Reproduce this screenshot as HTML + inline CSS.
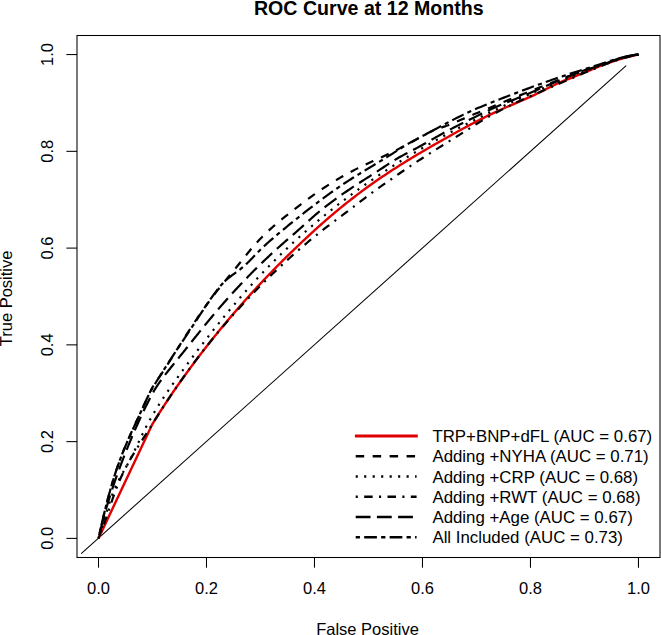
<!DOCTYPE html>
<html><head><meta charset="utf-8"><style>
html,body{margin:0;padding:0;background:#fff;}
body{width:661px;height:635px;overflow:hidden;}
svg{display:block;}
.t{font-family:"Liberation Sans",sans-serif;font-size:16.5px;fill:#000;}
.l{font-family:"Liberation Sans",sans-serif;font-size:16.85px;fill:#000;}
.b{font-family:"Liberation Sans",sans-serif;font-size:19.6px;font-weight:bold;fill:#000;}
</style></head><body>
<svg width="661" height="635" viewBox="0 0 661 635">
<rect width="661" height="635" fill="#fff"/>
<rect x="77" y="35.5" width="583" height="522" fill="none" stroke="#000" stroke-width="1.05"/>
<line x1="98.50" y1="557.5" x2="98.50" y2="567.7" stroke="#000" stroke-width="1.05"/>
<text x="98.50" y="593.8" text-anchor="middle" class="t">0.0</text>
<line x1="66.4" y1="538.40" x2="77" y2="538.40" stroke="#000" stroke-width="1.05"/>
<text transform="translate(52.6 538.40) rotate(-90)" x="0" y="0" text-anchor="middle" class="t">0.0</text>
<line x1="206.49" y1="557.5" x2="206.49" y2="567.7" stroke="#000" stroke-width="1.05"/>
<text x="206.49" y="593.8" text-anchor="middle" class="t">0.2</text>
<line x1="66.4" y1="441.63" x2="77" y2="441.63" stroke="#000" stroke-width="1.05"/>
<text transform="translate(52.6 441.63) rotate(-90)" x="0" y="0" text-anchor="middle" class="t">0.2</text>
<line x1="314.48" y1="557.5" x2="314.48" y2="567.7" stroke="#000" stroke-width="1.05"/>
<text x="314.48" y="593.8" text-anchor="middle" class="t">0.4</text>
<line x1="66.4" y1="344.86" x2="77" y2="344.86" stroke="#000" stroke-width="1.05"/>
<text transform="translate(52.6 344.86) rotate(-90)" x="0" y="0" text-anchor="middle" class="t">0.4</text>
<line x1="422.48" y1="557.5" x2="422.48" y2="567.7" stroke="#000" stroke-width="1.05"/>
<text x="422.48" y="593.8" text-anchor="middle" class="t">0.6</text>
<line x1="66.4" y1="248.10" x2="77" y2="248.10" stroke="#000" stroke-width="1.05"/>
<text transform="translate(52.6 248.10) rotate(-90)" x="0" y="0" text-anchor="middle" class="t">0.6</text>
<line x1="530.47" y1="557.5" x2="530.47" y2="567.7" stroke="#000" stroke-width="1.05"/>
<text x="530.47" y="593.8" text-anchor="middle" class="t">0.8</text>
<line x1="66.4" y1="151.33" x2="77" y2="151.33" stroke="#000" stroke-width="1.05"/>
<text transform="translate(52.6 151.33) rotate(-90)" x="0" y="0" text-anchor="middle" class="t">0.8</text>
<line x1="638.46" y1="557.5" x2="638.46" y2="567.7" stroke="#000" stroke-width="1.05"/>
<text x="638.46" y="593.8" text-anchor="middle" class="t">1.0</text>
<line x1="66.4" y1="54.56" x2="77" y2="54.56" stroke="#000" stroke-width="1.05"/>
<text transform="translate(52.6 54.56) rotate(-90)" x="0" y="0" text-anchor="middle" class="t">1.0</text>
<line x1="81.2" y1="553.6" x2="626.2" y2="65.6" stroke="#000" stroke-width="1.05"/>
<path d="M98.50,538.40 L152.30,424.20 L153.12,423.04 L153.94,421.67 L154.76,420.31 L155.60,418.95 L156.44,417.59 L157.28,416.22 L158.14,414.86 L158.99,413.49 L159.86,412.13 L160.72,410.76 L161.60,409.40 L162.48,408.03 L163.36,406.66 L164.26,405.29 L165.15,403.92 L166.05,402.55 L166.96,401.18 L167.88,399.80 L168.79,398.43 L169.72,397.06 L170.65,395.68 L171.58,394.31 L172.52,392.93 L173.46,391.55 L174.41,390.18 L175.37,388.80 L176.32,387.42 L177.29,386.04 L178.26,384.65 L179.23,383.27 L180.21,381.89 L181.19,380.50 L182.18,379.12 L183.17,377.73 L184.16,376.34 L185.17,374.95 L186.17,373.56 L187.18,372.17 L188.19,370.78 L189.21,369.39 L190.24,368.00 L191.27,366.60 L192.30,365.21 L193.34,363.81 L194.38,362.42 L195.42,361.02 L196.47,359.62 L197.53,358.23 L198.59,356.83 L199.66,355.43 L200.73,354.03 L201.80,352.63 L202.88,351.23 L203.96,349.83 L205.05,348.43 L206.14,347.03 L207.24,345.62 L208.34,344.22 L209.45,342.82 L210.56,341.42 L211.68,340.01 L212.80,338.61 L213.92,337.20 L215.05,335.80 L216.19,334.40 L217.33,332.99 L218.47,331.59 L219.62,330.18 L220.78,328.78 L221.93,327.37 L223.10,325.97 L224.27,324.56 L225.44,323.16 L226.62,321.75 L227.80,320.35 L228.98,318.94 L230.18,317.54 L231.37,316.13 L232.57,314.73 L233.78,313.32 L234.99,311.92 L236.20,310.51 L237.42,309.11 L238.65,307.70 L239.88,306.30 L241.11,304.90 L242.35,303.49 L243.59,302.09 L244.84,300.69 L246.10,299.28 L247.35,297.88 L248.62,296.48 L249.89,295.08 L251.16,293.68 L252.44,292.28 L253.72,290.88 L255.00,289.48 L256.30,288.08 L257.59,286.68 L258.89,285.28 L260.20,283.88 L261.51,282.48 L262.83,281.09 L264.15,279.69 L265.47,278.29 L266.81,276.90 L268.14,275.50 L269.48,274.11 L270.83,272.72 L272.18,271.32 L273.53,269.93 L274.89,268.54 L276.26,267.15 L277.63,265.76 L279.00,264.37 L280.38,262.98 L281.76,261.59 L283.15,260.21 L284.55,258.82 L285.95,257.44 L287.35,256.05 L288.76,254.67 L290.17,253.28 L291.59,251.90 L293.01,250.52 L294.44,249.14 L295.88,247.76 L297.32,246.38 L298.76,245.01 L300.21,243.63 L301.66,242.25 L303.12,240.88 L304.58,239.51 L306.05,238.14 L307.53,236.76 L309.01,235.40 L310.49,234.03 L311.98,232.66 L313.48,231.30 L314.98,229.93 L316.49,228.57 L318.00,227.21 L319.52,225.86 L321.05,224.50 L322.58,223.15 L324.12,221.80 L325.66,220.45 L327.21,219.11 L328.77,217.76 L330.33,216.42 L331.90,215.08 L333.48,213.75 L335.07,212.42 L336.66,211.09 L338.25,209.76 L339.86,208.44 L341.47,207.12 L343.09,205.80 L344.72,204.49 L346.36,203.18 L348.00,201.88 L349.65,200.57 L351.31,199.28 L352.97,197.98 L354.65,196.69 L356.33,195.40 L358.02,194.12 L359.71,192.84 L361.42,191.57 L363.13,190.30 L364.85,189.03 L366.58,187.77 L368.32,186.51 L370.07,185.26 L371.82,184.01 L373.58,182.76 L375.35,181.52 L377.13,180.28 L378.92,179.05 L380.71,177.82 L382.51,176.60 L384.32,175.38 L386.14,174.16 L387.97,172.95 L389.80,171.74 L391.65,170.54 L393.50,169.34 L395.36,168.14 L397.22,166.95 L399.10,165.77 L400.98,164.58 L402.87,163.40 L404.76,162.22 L406.66,161.05 L408.57,159.88 L410.49,158.71 L412.41,157.55 L414.34,156.39 L416.27,155.23 L418.22,154.07 L420.16,152.92 L422.12,151.76 L424.07,150.62 L426.04,149.47 L428.01,148.32 L429.98,147.18 L431.96,146.04 L433.95,144.90 L435.94,143.76 L437.93,142.62 L439.93,141.49 L441.94,140.36 L443.95,139.22 L445.96,138.09 L447.98,136.96 L450.00,135.83 L452.02,134.70 L454.05,133.57 L456.08,132.44 L458.12,131.32 L460.17,130.19 L462.22,129.07 L464.27,127.95 L466.33,126.84 L468.40,125.73 L470.48,124.62 L472.57,123.52 L474.66,122.42 L476.76,121.33 L478.87,120.24 L481.00,119.16 L483.13,118.08 L485.27,117.01 L487.42,115.95 L489.58,114.90 L491.76,113.85 L493.95,112.81 L496.15,111.78 L498.36,110.76 L500.59,109.75 L502.83,108.75 L505.08,107.76 L507.34,106.77 L509.61,105.79 L511.89,104.81 L514.17,103.83 L516.45,102.85 L518.74,101.87 L521.02,100.89 L523.30,99.90 L525.58,98.90 L527.85,97.90 L530.12,96.89 L532.37,95.86 L534.61,94.83 L536.84,93.78 L539.05,92.71 L541.25,91.62 L543.43,90.52 L545.60,89.41 L547.78,88.30 L549.96,87.19 L552.16,86.09 L554.37,85.01 L556.61,83.95 L558.88,82.91 L561.20,81.90 L563.55,80.93 L565.92,79.98 L568.31,79.04 L570.70,78.09 L573.08,77.14 L575.45,76.17 L577.82,75.20 L580.19,74.22 L582.55,73.24 L584.92,72.26 L587.28,71.28 L589.66,70.30 L592.04,69.32 L594.43,68.35 L596.83,67.39 L599.24,66.44 L601.67,65.50 L604.11,64.57 L606.58,63.66 L609.07,62.76 L611.58,61.88 L614.11,61.02 L616.68,60.19 L619.27,59.38 L621.90,58.60 L624.56,57.84 L627.26,57.12 L630.00,56.42 L632.77,55.77 L635.59,55.14 L638.46,54.56" fill="none" stroke="#e00000" stroke-width="2.4" stroke-linejoin="round" stroke-linecap="butt"/>
<path d="M98.50,538.40 L98.57,538.06 L98.68,537.57 L98.81,537.00 L98.95,536.36 L99.10,535.68 L99.26,534.95 L99.43,534.19 L99.61,533.39 L99.79,532.56 L99.98,531.70 L100.18,530.82 L100.38,529.91 L100.59,528.99 L100.80,528.04 L101.02,527.07 L101.25,526.08 L101.48,525.07 L101.71,524.04 L101.95,523.00 L102.19,521.95 L102.44,520.87 L102.69,519.79 L102.95,518.69 L103.21,517.57 L103.47,516.44 L103.74,515.30 L104.02,514.15 L104.29,512.99 L104.58,511.81 L104.87,510.63 L105.16,509.43 L105.45,508.23 L105.76,507.01 L106.06,505.79 L106.37,504.55 L106.69,503.31 L107.01,502.06 L107.34,500.80 L107.67,499.53 L108.00,498.26 L108.34,496.98 L108.69,495.69 L109.04,494.39 L109.40,493.09 L109.76,491.78 L110.13,490.47 L110.50,489.15 L110.88,487.83 L111.27,486.50 L111.66,485.16 L112.06,483.82 L112.46,482.48 L112.87,481.13 L113.28,479.77 L113.71,478.42 L114.13,477.05 L114.57,475.69 L115.01,474.32 L115.45,472.95 L115.91,471.57 L116.37,470.19 L116.83,468.81 L117.31,467.43 L117.79,466.04 L118.28,464.65 L118.77,463.26 L119.27,461.87 L119.78,460.48 L120.29,459.08 L120.82,457.68 L121.35,456.28 L121.89,454.88 L122.43,453.48 L122.98,452.08 L123.54,450.67 L124.11,449.27 L124.68,447.86 L125.27,446.46 L125.85,445.05 L126.45,443.64 L127.05,442.22 L127.66,440.81 L128.27,439.39 L128.89,437.98 L129.51,436.56 L130.14,435.14 L130.78,433.71 L131.42,432.29 L132.07,430.86 L132.72,429.43 L133.38,428.00 L134.04,426.56 L134.70,425.13 L135.37,423.69 L136.04,422.24 L136.72,420.80 L137.40,419.35 L138.09,417.89 L138.77,416.44 L139.46,414.98 L140.16,413.51 L140.85,412.04 L141.55,410.57 L142.24,409.09 L142.94,407.61 L143.64,406.12 L144.34,404.62 L145.03,403.12 L145.73,401.61 L146.42,400.09 L147.11,398.56 L147.79,397.02 L148.47,395.48 L149.16,393.93 L149.86,392.39 L150.59,390.87 L151.35,389.37 L152.16,387.91 L153.00,386.48 L153.87,385.06 L154.78,383.67 L155.70,382.29 L156.63,380.92 L157.58,379.55 L158.54,378.18 L159.49,376.81 L160.44,375.43 L161.39,374.03 L162.32,372.63 L163.26,371.21 L164.18,369.79 L165.11,368.36 L166.03,366.92 L166.95,365.47 L167.86,364.02 L168.78,362.56 L169.70,361.09 L170.62,359.63 L171.54,358.16 L172.46,356.68 L173.39,355.21 L174.31,353.73 L175.24,352.25 L176.18,350.76 L177.11,349.28 L178.05,347.79 L178.99,346.30 L179.93,344.80 L180.88,343.31 L181.83,341.81 L182.78,340.31 L183.74,338.81 L184.70,337.31 L185.67,335.81 L186.64,334.30 L187.61,332.80 L188.59,331.29 L189.57,329.79 L190.55,328.28 L191.55,326.77 L192.54,325.27 L193.54,323.76 L194.55,322.25 L195.56,320.75 L196.57,319.24 L197.60,317.73 L198.62,316.23 L199.66,314.72 L200.69,313.22 L201.74,311.72 L202.79,310.22 L203.85,308.72 L204.91,307.22 L205.99,305.73 L207.06,304.23 L208.15,302.74 L209.24,301.25 L210.34,299.76 L211.45,298.28 L212.57,296.80 L213.69,295.32 L214.82,293.85 L215.96,292.37 L217.11,290.91 L218.27,289.44 L219.43,287.98 L220.60,286.52 L221.78,285.06 L222.97,283.60 L224.15,282.15 L225.35,280.69 L226.55,279.23 L227.75,277.78 L228.95,276.32 L230.16,274.86 L231.36,273.39 L232.57,271.93 L233.78,270.46 L234.99,268.98 L236.20,267.51 L237.40,266.02 L238.61,264.53 L239.81,263.04 L241.01,261.54 L242.21,260.03 L243.42,258.53 L244.63,257.02 L245.84,255.52 L247.05,254.01 L248.28,252.51 L249.51,251.01 L250.75,249.52 L252.00,248.03 L253.27,246.55 L254.55,245.08 L255.84,243.62 L257.15,242.16 L258.47,240.72 L259.82,239.30 L261.18,237.89 L262.57,236.49 L263.97,235.10 L265.39,233.72 L266.82,232.36 L268.27,231.01 L269.74,229.66 L271.22,228.33 L272.71,227.01 L274.22,225.69 L275.74,224.38 L277.27,223.08 L278.81,221.78 L280.36,220.49 L281.93,219.20 L283.49,217.92 L285.07,216.64 L286.66,215.37 L288.25,214.10 L289.84,212.83 L291.45,211.56 L293.06,210.29 L294.68,209.03 L296.31,207.78 L297.94,206.52 L299.58,205.27 L301.23,204.02 L302.88,202.77 L304.55,201.53 L306.22,200.29 L307.90,199.06 L309.59,197.83 L311.28,196.61 L312.99,195.39 L314.71,194.17 L316.43,192.97 L318.17,191.76 L319.92,190.57 L321.67,189.38 L323.44,188.19 L325.22,187.02 L327.01,185.85 L328.82,184.69 L330.63,183.53 L332.46,182.39 L334.30,181.25 L336.16,180.12 L338.02,179.00 L339.91,177.89 L341.80,176.79 L343.71,175.70 L345.64,174.62 L347.58,173.55 L349.54,172.50 L351.51,171.45 L353.50,170.41 L355.51,169.39 L357.53,168.38 L359.56,167.37 L361.62,166.38 L363.68,165.39 L365.75,164.42 L367.83,163.44 L369.92,162.47 L372.02,161.51 L374.12,160.54 L376.23,159.58 L378.34,158.61 L380.45,157.65 L382.56,156.67 L384.66,155.70 L386.77,154.72 L388.87,153.73 L390.96,152.73 L393.04,151.72 L395.12,150.71 L397.18,149.68 L399.24,148.63 L401.29,147.58 L403.33,146.52 L405.36,145.45 L407.39,144.37 L409.41,143.28 L411.43,142.19 L413.45,141.09 L415.46,139.99 L417.47,138.88 L419.48,137.77 L421.49,136.65 L423.50,135.54 L425.52,134.42 L427.55,133.32 L429.62,132.25 L431.74,131.22 L433.93,130.24 L436.19,129.34 L438.54,128.50 L440.93,127.70 L443.33,126.91 L445.71,126.09 L448.03,125.23 L450.32,124.32 L452.57,123.39 L454.81,122.44 L457.05,121.48 L459.30,120.53 L461.54,119.58 L463.79,118.63 L466.05,117.68 L468.30,116.72 L470.56,115.77 L472.82,114.82 L475.09,113.86 L477.36,112.91 L479.63,111.96 L481.90,111.01 L484.18,110.05 L486.46,109.10 L488.75,108.15 L491.03,107.20 L493.32,106.25 L495.62,105.30 L497.91,104.35 L500.21,103.40 L502.52,102.45 L504.83,101.50 L507.14,100.55 L509.45,99.60 L511.77,98.65 L514.09,97.70 L516.42,96.76 L518.74,95.81 L521.08,94.87 L523.41,93.92 L525.75,92.98 L528.10,92.04 L530.44,91.09 L532.79,90.15 L535.15,89.21 L537.51,88.27 L539.87,87.33 L542.24,86.40 L544.61,85.46 L546.98,84.52 L549.36,83.59 L551.75,82.66 L554.13,81.73 L556.53,80.80 L558.92,79.87 L561.32,78.94 L563.73,78.02 L566.14,77.09 L568.56,76.17 L570.98,75.26 L573.41,74.34 L575.85,73.43 L578.29,72.53 L580.74,71.62 L583.20,70.72 L585.66,69.83 L588.13,68.94 L590.61,68.05 L593.10,67.17 L595.60,66.29 L598.10,65.42 L600.61,64.55 L603.13,63.69 L605.66,62.83 L608.20,61.99 L610.75,61.14 L613.32,60.31 L615.90,59.49 L618.52,58.70 L621.17,57.94 L623.88,57.23 L626.64,56.56 L629.47,55.95 L632.38,55.41 L635.37,54.94 L638.46,54.56" fill="none" stroke="#000" stroke-width="2.2" stroke-linejoin="round" stroke-linecap="butt" stroke-dasharray="8.415 8.415" stroke-dashoffset="13.641"/>
<path d="M98.50,538.40 L98.61,538.09 L98.76,537.64 L98.94,537.12 L99.14,536.53 L99.35,535.90 L99.57,535.23 L99.80,534.52 L100.04,533.78 L100.29,533.01 L100.55,532.21 L100.81,531.38 L101.07,530.53 L101.34,529.66 L101.62,528.77 L101.90,527.85 L102.18,526.92 L102.47,525.96 L102.76,524.99 L103.06,524.00 L103.36,522.99 L103.66,521.97 L103.96,520.93 L104.27,519.87 L104.59,518.81 L104.90,517.73 L105.22,516.63 L105.55,515.53 L105.88,514.41 L106.21,513.28 L106.55,512.14 L106.90,510.99 L107.25,509.83 L107.60,508.67 L107.96,507.49 L108.33,506.31 L108.71,505.12 L109.09,503.92 L109.48,502.72 L109.88,501.51 L110.28,500.30 L110.70,499.09 L111.12,497.87 L111.56,496.65 L112.00,495.43 L112.46,494.20 L112.93,492.98 L113.41,491.75 L113.90,490.53 L114.41,489.31 L114.93,488.09 L115.46,486.87 L116.01,485.66 L116.58,484.45 L117.16,483.24 L117.76,482.04 L118.37,480.85 L118.99,479.66 L119.63,478.46 L120.28,477.28 L120.94,476.09 L121.61,474.89 L122.29,473.70 L122.97,472.50 L123.66,471.30 L124.35,470.10 L125.04,468.88 L125.73,467.66 L126.42,466.43 L127.11,465.19 L127.79,463.93 L128.47,462.67 L129.15,461.39 L129.82,460.10 L130.49,458.80 L131.15,457.49 L131.82,456.17 L132.48,454.85 L133.14,453.51 L133.80,452.16 L134.46,450.81 L135.11,449.45 L135.77,448.08 L136.43,446.71 L137.09,445.33 L137.75,443.94 L138.42,442.55 L139.08,441.16 L139.76,439.76 L140.43,438.35 L141.11,436.95 L141.79,435.54 L142.48,434.13 L143.18,432.72 L143.88,431.31 L144.59,429.90 L145.31,428.49 L146.03,427.08 L146.77,425.67 L147.51,424.27 L148.27,422.87 L149.03,421.47 L149.80,420.07 L150.59,418.67 L151.38,417.28 L152.18,415.89 L152.99,414.50 L153.80,413.11 L154.63,411.72 L155.46,410.33 L156.31,408.95 L157.16,407.57 L158.02,406.19 L158.88,404.81 L159.76,403.43 L160.64,402.05 L161.53,400.67 L162.43,399.30 L163.33,397.92 L164.24,396.55 L165.16,395.18 L166.09,393.80 L167.02,392.43 L167.95,391.06 L168.90,389.69 L169.85,388.32 L170.80,386.94 L171.77,385.57 L172.73,384.20 L173.71,382.83 L174.68,381.45 L175.67,380.08 L176.66,378.70 L177.65,377.33 L178.64,375.95 L179.65,374.57 L180.65,373.19 L181.66,371.81 L182.67,370.43 L183.69,369.05 L184.71,367.66 L185.73,366.27 L186.76,364.88 L187.79,363.49 L188.82,362.10 L189.86,360.70 L190.90,359.31 L191.95,357.91 L193.00,356.51 L194.05,355.11 L195.10,353.70 L196.16,352.30 L197.23,350.89 L198.29,349.49 L199.36,348.08 L200.44,346.67 L201.52,345.26 L202.60,343.85 L203.68,342.44 L204.77,341.02 L205.87,339.61 L206.97,338.19 L208.07,336.78 L209.17,335.36 L210.28,333.94 L211.40,332.52 L212.52,331.11 L213.64,329.69 L214.77,328.27 L215.90,326.85 L217.03,325.42 L218.17,324.00 L219.32,322.58 L220.47,321.16 L221.62,319.74 L222.78,318.31 L223.94,316.89 L225.11,315.47 L226.28,314.04 L227.46,312.62 L228.64,311.20 L229.82,309.78 L231.01,308.35 L232.21,306.93 L233.41,305.51 L234.61,304.09 L235.82,302.67 L237.04,301.24 L238.26,299.82 L239.48,298.40 L240.71,296.98 L241.95,295.57 L243.19,294.15 L244.43,292.73 L245.68,291.31 L246.94,289.90 L248.20,288.48 L249.47,287.07 L250.74,285.66 L252.02,284.24 L253.30,282.83 L254.59,281.42 L255.89,280.02 L257.19,278.61 L258.50,277.20 L259.81,275.80 L261.13,274.40 L262.45,273.00 L263.78,271.60 L265.11,270.20 L266.46,268.80 L267.80,267.41 L269.16,266.01 L270.52,264.62 L271.89,263.23 L273.26,261.85 L274.64,260.46 L276.02,259.08 L277.41,257.70 L278.81,256.32 L280.22,254.94 L281.63,253.57 L283.05,252.20 L284.47,250.83 L285.90,249.46 L287.34,248.09 L288.78,246.73 L290.23,245.37 L291.69,244.01 L293.15,242.65 L294.62,241.30 L296.10,239.95 L297.58,238.60 L299.07,237.25 L300.56,235.91 L302.07,234.56 L303.57,233.22 L305.09,231.89 L306.61,230.55 L308.14,229.22 L309.67,227.89 L311.21,226.56 L312.76,225.24 L314.32,223.91 L315.88,222.59 L317.44,221.28 L319.02,219.96 L320.60,218.65 L322.19,217.34 L323.78,216.03 L325.38,214.73 L326.99,213.42 L328.60,212.12 L330.22,210.83 L331.85,209.53 L333.48,208.24 L335.12,206.95 L336.77,205.67 L338.42,204.38 L340.08,203.10 L341.75,201.82 L343.42,200.55 L345.10,199.28 L346.78,198.01 L348.48,196.74 L350.18,195.48 L351.88,194.22 L353.60,192.96 L355.32,191.70 L357.04,190.45 L358.77,189.20 L360.51,187.95 L362.26,186.71 L364.01,185.47 L365.77,184.23 L367.54,182.99 L369.31,181.76 L371.09,180.53 L372.88,179.30 L374.67,178.08 L376.47,176.86 L378.28,175.64 L380.09,174.42 L381.91,173.21 L383.73,172.00 L385.57,170.80 L387.41,169.59 L389.25,168.39 L391.11,167.20 L392.97,166.00 L394.83,164.81 L396.71,163.62 L398.59,162.44 L400.47,161.26 L402.37,160.08 L404.27,158.90 L406.17,157.73 L408.09,156.56 L410.01,155.39 L411.94,154.23 L413.87,153.07 L415.81,151.92 L417.76,150.76 L419.71,149.61 L421.67,148.46 L423.64,147.32 L425.61,146.18 L427.60,145.04 L429.58,143.91 L431.58,142.77 L433.58,141.65 L435.59,140.52 L437.60,139.40 L439.62,138.28 L441.65,137.16 L443.69,136.05 L445.73,134.94 L447.77,133.84 L449.83,132.73 L451.89,131.63 L453.96,130.54 L456.03,129.44 L458.11,128.35 L460.20,127.26 L462.29,126.18 L464.39,125.10 L466.50,124.02 L468.61,122.94 L470.73,121.87 L472.85,120.80 L474.98,119.73 L477.12,118.67 L479.27,117.61 L481.42,116.55 L483.57,115.49 L485.73,114.44 L487.90,113.39 L490.08,112.34 L492.26,111.30 L494.44,110.26 L496.64,109.22 L498.84,108.18 L501.04,107.15 L503.25,106.12 L505.47,105.09 L507.69,104.06 L509.92,103.04 L512.15,102.02 L514.39,101.00 L516.64,99.99 L518.89,98.98 L521.15,97.97 L523.41,96.96 L525.68,95.96 L527.96,94.95 L530.24,93.96 L532.53,92.96 L534.82,91.97 L537.12,90.97 L539.42,89.99 L541.73,89.00 L544.05,88.02 L546.37,87.03 L548.69,86.06 L551.03,85.08 L553.36,84.11 L555.71,83.14 L558.06,82.17 L560.41,81.20 L562.77,80.24 L565.14,79.28 L567.51,78.32 L569.89,77.36 L572.27,76.41 L574.66,75.46 L577.05,74.51 L579.45,73.56 L581.86,72.62 L584.27,71.68 L586.68,70.74 L589.10,69.80 L591.53,68.87 L593.96,67.94 L596.40,67.01 L598.84,66.08 L601.29,65.16 L603.74,64.23 L606.21,63.32 L608.69,62.42 L611.20,61.54 L613.73,60.68 L616.30,59.85 L618.89,59.04 L621.53,58.27 L624.21,57.53 L626.95,56.84 L629.73,56.19 L632.58,55.59 L635.48,55.05 L638.46,54.56" fill="none" stroke="#000" stroke-width="2.2" stroke-linejoin="round" stroke-linecap="butt" stroke-dasharray="2.109 6.328" stroke-dashoffset="5.738"/>
<path d="M98.50,538.40 L98.62,538.11 L98.80,537.68 L99.01,537.18 L99.23,536.62 L99.48,536.02 L99.74,535.38 L100.00,534.70 L100.28,533.99 L100.57,533.26 L100.87,532.50 L101.17,531.71 L101.48,530.90 L101.79,530.06 L102.11,529.21 L102.44,528.33 L102.77,527.44 L103.10,526.52 L103.44,525.59 L103.78,524.64 L104.12,523.68 L104.47,522.69 L104.82,521.70 L105.18,520.68 L105.53,519.66 L105.89,518.61 L106.26,517.56 L106.62,516.49 L106.99,515.40 L107.36,514.31 L107.74,513.20 L108.12,512.08 L108.50,510.95 L108.88,509.81 L109.27,508.66 L109.67,507.50 L110.06,506.33 L110.46,505.15 L110.87,503.96 L111.28,502.77 L111.69,501.56 L112.11,500.35 L112.53,499.13 L112.96,497.91 L113.40,496.68 L113.84,495.44 L114.29,494.19 L114.74,492.95 L115.20,491.69 L115.67,490.44 L116.14,489.18 L116.63,487.91 L117.12,486.65 L117.62,485.38 L118.13,484.11 L118.64,482.84 L119.17,481.57 L119.71,480.29 L120.26,479.02 L120.82,477.75 L121.39,476.48 L121.97,475.21 L122.56,473.95 L123.17,472.68 L123.79,471.42 L124.42,470.16 L125.06,468.90 L125.71,467.64 L126.37,466.38 L127.04,465.13 L127.72,463.87 L128.42,462.62 L129.12,461.36 L129.83,460.11 L130.55,458.86 L131.28,457.61 L132.02,456.36 L132.77,455.10 L133.52,453.85 L134.28,452.60 L135.05,451.34 L135.83,450.09 L136.61,448.83 L137.40,447.57 L138.19,446.31 L138.99,445.05 L139.79,443.78 L140.60,442.52 L141.42,441.25 L142.23,439.97 L143.05,438.69 L143.88,437.41 L144.71,436.12 L145.53,434.83 L146.37,433.54 L147.20,432.24 L148.03,430.93 L148.87,429.62 L149.71,428.31 L150.55,426.99 L151.39,425.66 L152.23,424.33 L153.07,423.00 L153.92,421.65 L154.76,420.31 L155.61,418.96 L156.46,417.61 L157.32,416.25 L158.17,414.89 L159.04,413.53 L159.90,412.17 L160.77,410.81 L161.65,409.44 L162.53,408.07 L163.42,406.71 L164.31,405.34 L165.20,403.96 L166.10,402.59 L167.01,401.22 L167.91,399.84 L168.83,398.46 L169.75,397.08 L170.67,395.70 L171.60,394.32 L172.53,392.94 L173.47,391.56 L174.41,390.18 L175.36,388.79 L176.31,387.40 L177.27,386.02 L178.23,384.63 L179.20,383.24 L180.17,381.85 L181.15,380.46 L182.13,379.07 L183.11,377.68 L184.11,376.29 L185.10,374.90 L186.10,373.51 L187.11,372.11 L188.12,370.72 L189.14,369.32 L190.16,367.93 L191.19,366.54 L192.22,365.14 L193.26,363.75 L194.30,362.35 L195.35,360.96 L196.40,359.56 L197.46,358.16 L198.52,356.77 L199.59,355.37 L200.67,353.98 L201.75,352.58 L202.83,351.19 L203.92,349.79 L205.02,348.40 L206.12,347.00 L207.22,345.61 L208.34,344.21 L209.45,342.82 L210.57,341.43 L211.70,340.03 L212.84,338.64 L213.97,337.25 L215.12,335.86 L216.27,334.46 L217.42,333.07 L218.58,331.68 L219.75,330.29 L220.92,328.90 L222.09,327.51 L223.28,326.13 L224.46,324.74 L225.66,323.35 L226.86,321.97 L228.06,320.58 L229.27,319.20 L230.48,317.81 L231.70,316.43 L232.93,315.05 L234.16,313.66 L235.40,312.28 L236.64,310.90 L237.89,309.52 L239.14,308.15 L240.40,306.77 L241.67,305.39 L242.94,304.02 L244.22,302.64 L245.50,301.27 L246.78,299.90 L248.08,298.53 L249.38,297.16 L250.68,295.79 L251.99,294.42 L253.31,293.06 L254.63,291.69 L255.96,290.33 L257.29,288.97 L258.63,287.60 L259.97,286.24 L261.32,284.89 L262.68,283.53 L264.04,282.17 L265.41,280.82 L266.78,279.46 L268.16,278.11 L269.55,276.76 L270.94,275.41 L272.33,274.07 L273.74,272.72 L275.14,271.38 L276.56,270.03 L277.98,268.69 L279.40,267.35 L280.83,266.01 L282.27,264.68 L283.72,263.34 L285.16,262.01 L286.62,260.68 L288.08,259.35 L289.55,258.02 L291.02,256.69 L292.50,255.37 L293.98,254.05 L295.48,252.73 L296.97,251.41 L298.48,250.09 L299.99,248.78 L301.51,247.47 L303.03,246.16 L304.56,244.85 L306.10,243.55 L307.65,242.25 L309.20,240.96 L310.76,239.66 L312.33,238.38 L313.91,237.09 L315.49,235.81 L317.09,234.53 L318.69,233.26 L320.30,231.99 L321.92,230.72 L323.54,229.46 L325.18,228.20 L326.82,226.95 L328.47,225.70 L330.13,224.45 L331.79,223.21 L333.46,221.96 L335.12,220.72 L336.79,219.47 L338.47,218.22 L340.14,216.96 L341.81,215.71 L343.48,214.45 L345.15,213.18 L346.82,211.91 L348.49,210.64 L350.16,209.36 L351.82,208.08 L353.49,206.79 L355.15,205.51 L356.82,204.22 L358.49,202.93 L360.17,201.64 L361.85,200.35 L363.54,199.07 L365.24,197.79 L366.94,196.51 L368.65,195.24 L370.37,193.98 L372.10,192.71 L373.84,191.45 L375.58,190.20 L377.33,188.94 L379.09,187.69 L380.85,186.44 L382.61,185.20 L384.39,183.95 L386.16,182.71 L387.95,181.46 L389.73,180.22 L391.52,178.98 L393.31,177.73 L395.11,176.49 L396.90,175.25 L398.71,174.01 L400.51,172.76 L402.32,171.52 L404.14,170.28 L405.96,169.04 L407.78,167.81 L409.62,166.57 L411.45,165.34 L413.30,164.11 L415.14,162.88 L417.00,161.66 L418.86,160.44 L420.73,159.22 L422.61,158.01 L424.49,156.79 L426.38,155.58 L428.27,154.38 L430.17,153.17 L432.07,151.96 L433.98,150.76 L435.89,149.56 L437.80,148.35 L439.72,147.15 L441.64,145.95 L443.57,144.74 L445.49,143.54 L447.42,142.34 L449.35,141.13 L451.28,139.92 L453.22,138.71 L455.15,137.50 L457.09,136.29 L459.02,135.07 L460.95,133.85 L462.89,132.63 L464.82,131.40 L466.75,130.18 L468.69,128.95 L470.63,127.72 L472.57,126.49 L474.52,125.27 L476.48,124.05 L478.45,122.84 L480.43,121.63 L482.41,120.43 L484.42,119.24 L486.43,118.05 L488.46,116.88 L490.51,115.73 L492.57,114.58 L494.66,113.45 L496.75,112.32 L498.86,111.21 L500.99,110.11 L503.13,109.02 L505.28,107.94 L507.45,106.86 L509.63,105.80 L511.81,104.74 L514.01,103.69 L516.22,102.64 L518.44,101.60 L520.67,100.57 L522.91,99.54 L525.15,98.52 L527.41,97.50 L529.67,96.48 L531.93,95.47 L534.21,94.47 L536.49,93.46 L538.78,92.46 L541.07,91.46 L543.37,90.47 L545.67,89.47 L547.98,88.48 L550.29,87.49 L552.61,86.50 L554.93,85.51 L557.26,84.52 L559.58,83.53 L561.91,82.55 L564.25,81.56 L566.58,80.57 L568.92,79.58 L571.26,78.59 L573.60,77.60 L575.94,76.61 L578.28,75.61 L580.62,74.61 L582.96,73.61 L585.30,72.61 L587.65,71.61 L590.00,70.61 L592.36,69.62 L594.73,68.63 L597.11,67.65 L599.50,66.67 L601.90,65.71 L604.32,64.76 L606.76,63.82 L609.22,62.89 L611.69,61.98 L614.19,61.10 L616.72,60.23 L619.29,59.39 L621.88,58.58 L624.52,57.81 L627.21,57.07 L629.94,56.37 L632.72,55.72 L635.56,55.11 L638.46,54.56" fill="none" stroke="#000" stroke-width="2.2" stroke-linejoin="round" stroke-linecap="butt" stroke-dasharray="2.111 6.333 8.445 6.333" stroke-dashoffset="16.819"/>
<path d="M98.50,538.40 L98.58,538.07 L98.69,537.58 L98.82,537.01 L98.96,536.38 L99.12,535.70 L99.29,534.98 L99.47,534.22 L99.65,533.43 L99.85,532.61 L100.05,531.76 L100.26,530.89 L100.48,530.00 L100.70,529.09 L100.93,528.15 L101.17,527.20 L101.41,526.23 L101.67,525.24 L101.92,524.23 L102.18,523.22 L102.45,522.18 L102.73,521.13 L103.01,520.07 L103.29,519.00 L103.59,517.91 L103.88,516.81 L104.19,515.70 L104.50,514.58 L104.81,513.45 L105.13,512.31 L105.46,511.16 L105.79,510.00 L106.12,508.83 L106.47,507.65 L106.81,506.46 L107.17,505.26 L107.53,504.06 L107.89,502.85 L108.26,501.63 L108.63,500.40 L109.01,499.16 L109.40,497.92 L109.79,496.67 L110.18,495.42 L110.59,494.15 L110.99,492.89 L111.40,491.61 L111.82,490.33 L112.24,489.04 L112.67,487.75 L113.10,486.45 L113.54,485.15 L113.98,483.84 L114.43,482.53 L114.88,481.21 L115.34,479.88 L115.81,478.55 L116.28,477.22 L116.75,475.88 L117.23,474.54 L117.71,473.19 L118.20,471.84 L118.70,470.48 L119.20,469.12 L119.70,467.76 L120.21,466.39 L120.72,465.02 L121.24,463.64 L121.77,462.26 L122.30,460.87 L122.83,459.49 L123.37,458.09 L123.91,456.70 L124.46,455.30 L125.01,453.90 L125.57,452.49 L126.14,451.08 L126.70,449.67 L127.28,448.26 L127.85,446.84 L128.43,445.42 L129.02,443.99 L129.61,442.56 L130.21,441.13 L130.81,439.70 L131.41,438.26 L132.02,436.82 L132.64,435.38 L133.26,433.93 L133.88,432.48 L134.51,431.03 L135.14,429.58 L135.78,428.13 L136.42,426.67 L137.07,425.21 L137.72,423.75 L138.38,422.29 L139.05,420.82 L139.72,419.36 L140.39,417.89 L141.07,416.42 L141.76,414.95 L142.45,413.48 L143.15,412.01 L143.85,410.53 L144.56,409.06 L145.28,407.59 L146.00,406.11 L146.73,404.64 L147.46,403.16 L148.20,401.69 L148.95,400.21 L149.70,398.74 L150.47,397.26 L151.24,395.80 L152.03,394.34 L152.84,392.88 L153.66,391.44 L154.50,390.01 L155.36,388.59 L156.25,387.19 L157.16,385.81 L158.09,384.44 L159.04,383.07 L160.01,381.72 L160.99,380.37 L161.97,379.03 L162.97,377.69 L163.98,376.35 L165.00,375.02 L166.02,373.69 L167.05,372.36 L168.09,371.03 L169.14,369.71 L170.20,368.38 L171.26,367.06 L172.32,365.73 L173.39,364.41 L174.47,363.08 L175.55,361.75 L176.63,360.42 L177.71,359.08 L178.80,357.75 L179.89,356.41 L180.97,355.06 L182.06,353.71 L183.15,352.36 L184.24,351.00 L185.33,349.64 L186.42,348.27 L187.52,346.91 L188.61,345.54 L189.71,344.16 L190.81,342.78 L191.91,341.40 L193.02,340.02 L194.12,338.63 L195.23,337.25 L196.34,335.86 L197.46,334.46 L198.57,333.07 L199.69,331.68 L200.82,330.28 L201.94,328.88 L203.08,327.48 L204.21,326.08 L205.35,324.68 L206.50,323.28 L207.64,321.88 L208.80,320.48 L209.96,319.08 L211.12,317.68 L212.29,316.28 L213.46,314.88 L214.64,313.48 L215.83,312.08 L217.02,310.69 L218.21,309.29 L219.41,307.89 L220.62,306.50 L221.83,305.10 L223.05,303.71 L224.27,302.31 L225.50,300.92 L226.73,299.53 L227.97,298.14 L229.22,296.75 L230.47,295.36 L231.73,293.97 L232.99,292.58 L234.26,291.20 L235.53,289.81 L236.81,288.43 L238.10,287.05 L239.39,285.67 L240.68,284.29 L241.99,282.91 L243.30,281.54 L244.61,280.16 L245.94,278.79 L247.26,277.42 L248.60,276.05 L249.94,274.68 L251.29,273.32 L252.64,271.96 L254.00,270.59 L255.36,269.23 L256.74,267.88 L258.11,266.52 L259.50,265.17 L260.89,263.81 L262.29,262.46 L263.69,261.12 L265.11,259.77 L266.52,258.43 L267.95,257.09 L269.38,255.75 L270.82,254.41 L272.26,253.08 L273.72,251.75 L275.17,250.42 L276.64,249.10 L278.11,247.78 L279.59,246.46 L281.08,245.14 L282.57,243.82 L284.07,242.51 L285.58,241.20 L287.09,239.89 L288.60,238.57 L290.11,237.26 L291.63,235.94 L293.14,234.62 L294.66,233.30 L296.18,231.97 L297.69,230.64 L299.20,229.30 L300.71,227.96 L302.21,226.61 L303.72,225.26 L305.22,223.90 L306.73,222.54 L308.24,221.18 L309.75,219.82 L311.27,218.47 L312.80,217.11 L314.34,215.77 L315.89,214.43 L317.45,213.10 L319.03,211.78 L320.62,210.46 L322.23,209.16 L323.85,207.87 L325.48,206.58 L327.13,205.31 L328.79,204.04 L330.46,202.78 L332.14,201.52 L333.84,200.28 L335.54,199.04 L337.26,197.81 L338.99,196.58 L340.73,195.36 L342.47,194.14 L344.23,192.93 L345.99,191.73 L347.77,190.53 L349.55,189.33 L351.34,188.14 L353.13,186.95 L354.94,185.76 L356.75,184.58 L358.56,183.39 L360.38,182.21 L362.21,181.04 L364.04,179.86 L365.88,178.68 L367.72,177.51 L369.56,176.33 L371.40,175.15 L373.25,173.97 L375.09,172.79 L376.93,171.60 L378.77,170.40 L380.61,169.20 L382.44,167.99 L384.26,166.78 L386.09,165.55 L387.91,164.33 L389.75,163.12 L391.60,161.92 L393.48,160.73 L395.38,159.57 L397.32,158.43 L399.29,157.32 L401.28,156.22 L403.29,155.14 L405.31,154.07 L407.35,153.01 L409.39,151.95 L411.43,150.89 L413.47,149.82 L415.49,148.73 L417.51,147.64 L419.52,146.54 L421.53,145.42 L423.52,144.31 L425.52,143.18 L427.51,142.05 L429.51,140.92 L431.50,139.78 L433.50,138.65 L435.50,137.51 L437.50,136.38 L439.52,135.25 L441.54,134.13 L443.57,133.01 L445.61,131.90 L447.67,130.80 L449.73,129.70 L451.81,128.61 L453.89,127.53 L455.99,126.45 L458.09,125.38 L460.21,124.31 L462.33,123.25 L464.45,122.19 L466.59,121.13 L468.73,120.08 L470.87,119.02 L473.02,117.97 L475.18,116.93 L477.34,115.88 L479.50,114.83 L481.66,113.78 L483.83,112.73 L486.01,111.69 L488.19,110.65 L490.38,109.62 L492.59,108.59 L494.80,107.57 L497.04,106.57 L499.30,105.58 L501.57,104.61 L503.87,103.65 L506.18,102.71 L508.50,101.77 L510.84,100.84 L513.18,99.91 L515.52,98.99 L517.86,98.05 L520.19,97.11 L522.52,96.16 L524.83,95.19 L527.14,94.22 L529.45,93.25 L531.75,92.26 L534.04,91.27 L536.34,90.27 L538.63,89.27 L540.92,88.27 L543.21,87.27 L545.51,86.26 L547.80,85.26 L550.10,84.25 L552.41,83.25 L554.72,82.25 L557.04,81.26 L559.37,80.27 L561.71,79.29 L564.06,78.31 L566.42,77.34 L568.80,76.39 L571.19,75.44 L573.59,74.50 L576.01,73.58 L578.45,72.67 L580.91,71.77 L583.39,70.89 L585.88,70.02 L588.39,69.16 L590.91,68.31 L593.44,67.47 L595.97,66.63 L598.51,65.79 L601.05,64.95 L603.59,64.10 L606.13,63.26 L608.67,62.40 L611.19,61.54 L613.72,60.67 L616.25,59.80 L618.80,58.96 L621.40,58.14 L624.04,57.37 L626.74,56.65 L629.52,56.00 L632.39,55.42 L635.37,54.94 L638.46,54.56" fill="none" stroke="#000" stroke-width="2.2" stroke-linejoin="round" stroke-linecap="butt" stroke-dasharray="14.769 6.330" stroke-dashoffset="12.415"/>
<path d="M98.50,538.40 L98.57,538.06 L98.68,537.57 L98.80,537.00 L98.94,536.36 L99.09,535.67 L99.25,534.94 L99.42,534.18 L99.60,533.38 L99.78,532.55 L99.97,531.69 L100.16,530.81 L100.37,529.90 L100.57,528.97 L100.79,528.02 L101.01,527.05 L101.23,526.06 L101.46,525.05 L101.69,524.03 L101.93,522.99 L102.18,521.93 L102.42,520.86 L102.68,519.78 L102.94,518.68 L103.20,517.56 L103.47,516.44 L103.74,515.30 L104.01,514.15 L104.29,512.99 L104.58,511.82 L104.87,510.63 L105.16,509.44 L105.46,508.23 L105.77,507.02 L106.07,505.80 L106.39,504.56 L106.70,503.32 L107.03,502.07 L107.35,500.82 L107.69,499.55 L108.02,498.28 L108.36,496.99 L108.71,495.71 L109.06,494.41 L109.42,493.11 L109.78,491.80 L110.15,490.48 L110.52,489.16 L110.90,487.84 L111.28,486.50 L111.67,485.17 L112.06,483.82 L112.46,482.48 L112.87,481.12 L113.28,479.77 L113.70,478.41 L114.12,477.04 L114.55,475.67 L114.99,474.30 L115.43,472.93 L115.88,471.55 L116.34,470.17 L116.80,468.79 L117.27,467.40 L117.75,466.01 L118.24,464.62 L118.73,463.23 L119.23,461.84 L119.74,460.44 L120.26,459.05 L120.78,457.65 L121.32,456.26 L121.86,454.86 L122.41,453.46 L122.97,452.06 L123.53,450.66 L124.11,449.27 L124.69,447.87 L125.28,446.46 L125.87,445.06 L126.47,443.66 L127.08,442.25 L127.69,440.84 L128.32,439.44 L128.94,438.02 L129.57,436.61 L130.21,435.19 L130.85,433.77 L131.49,432.35 L132.14,430.93 L132.79,429.50 L133.45,428.06 L134.10,426.63 L134.76,425.18 L135.43,423.74 L136.09,422.29 L136.76,420.83 L137.42,419.37 L138.09,417.90 L138.76,416.42 L139.43,414.94 L140.09,413.46 L140.76,411.96 L141.43,410.47 L142.10,408.97 L142.78,407.46 L143.46,405.96 L144.14,404.45 L144.84,402.94 L145.54,401.44 L146.25,399.94 L146.97,398.44 L147.70,396.94 L148.44,395.45 L149.20,393.97 L149.98,392.50 L150.77,391.03 L151.59,389.59 L152.42,388.15 L153.28,386.72 L154.14,385.30 L155.01,383.88 L155.89,382.46 L156.77,381.04 L157.66,379.62 L158.55,378.19 L159.45,376.77 L160.35,375.34 L161.25,373.91 L162.16,372.48 L163.07,371.05 L163.99,369.61 L164.91,368.18 L165.83,366.74 L166.76,365.30 L167.69,363.86 L168.62,362.42 L169.56,360.97 L170.50,359.52 L171.45,358.08 L172.39,356.63 L173.35,355.17 L174.30,353.72 L175.26,352.26 L176.22,350.80 L177.18,349.34 L178.15,347.87 L179.11,346.41 L180.09,344.94 L181.06,343.47 L182.04,341.99 L183.01,340.52 L183.99,339.04 L184.98,337.56 L185.96,336.07 L186.95,334.58 L187.94,333.09 L188.93,331.60 L189.92,330.10 L190.92,328.60 L191.91,327.10 L192.91,325.60 L193.91,324.09 L194.91,322.58 L195.91,321.06 L196.91,319.54 L197.91,318.02 L198.92,316.49 L199.92,314.96 L200.93,313.43 L201.93,311.89 L202.94,310.35 L203.96,308.81 L204.97,307.27 L205.99,305.73 L207.02,304.19 L208.06,302.66 L209.10,301.12 L210.15,299.59 L211.21,298.07 L212.29,296.55 L213.37,295.04 L214.47,293.53 L215.58,292.04 L216.71,290.55 L217.86,289.08 L219.03,287.62 L220.23,286.18 L221.46,284.77 L222.73,283.39 L224.04,282.05 L225.40,280.74 L226.81,279.47 L228.27,278.25 L229.77,277.05 L231.31,275.89 L232.86,274.74 L234.43,273.60 L236.01,272.45 L237.58,271.31 L239.14,270.14 L240.67,268.95 L242.17,267.72 L243.64,266.47 L245.07,265.18 L246.49,263.86 L247.87,262.52 L249.25,261.16 L250.60,259.79 L251.95,258.40 L253.29,257.01 L254.64,255.61 L255.98,254.21 L257.33,252.81 L258.70,251.42 L260.08,250.04 L261.48,248.67 L262.90,247.32 L264.33,245.97 L265.78,244.64 L267.24,243.31 L268.71,241.99 L270.20,240.68 L271.70,239.38 L273.20,238.08 L274.72,236.78 L276.24,235.49 L277.77,234.20 L279.31,232.92 L280.85,231.63 L282.40,230.35 L283.95,229.06 L285.51,227.78 L287.07,226.50 L288.64,225.22 L290.21,223.94 L291.79,222.66 L293.37,221.39 L294.96,220.11 L296.55,218.84 L298.15,217.57 L299.76,216.29 L301.37,215.02 L302.98,213.75 L304.60,212.49 L306.22,211.22 L307.85,209.95 L309.48,208.69 L311.12,207.42 L312.77,206.16 L314.41,204.90 L316.07,203.64 L317.73,202.38 L319.40,201.13 L321.07,199.88 L322.75,198.63 L324.44,197.38 L326.13,196.14 L327.84,194.90 L329.55,193.66 L331.26,192.43 L332.99,191.21 L334.73,189.98 L336.47,188.77 L338.22,187.55 L339.99,186.34 L341.76,185.14 L343.54,183.95 L345.33,182.75 L347.13,181.57 L348.95,180.39 L350.77,179.22 L352.60,178.05 L354.45,176.89 L356.30,175.74 L358.16,174.59 L360.03,173.44 L361.90,172.29 L363.78,171.15 L365.66,170.01 L367.55,168.87 L369.45,167.73 L371.34,166.59 L373.24,165.44 L375.14,164.30 L377.04,163.16 L378.94,162.01 L380.84,160.85 L382.74,159.70 L384.63,158.53 L386.52,157.37 L388.41,156.19 L390.30,155.01 L392.17,153.82 L394.05,152.62 L395.92,151.42 L397.79,150.22 L399.67,149.02 L401.56,147.82 L403.46,146.64 L405.38,145.46 L407.32,144.31 L409.28,143.17 L411.27,142.04 L413.28,140.94 L415.30,139.85 L417.34,138.76 L419.38,137.68 L421.43,136.60 L423.48,135.52 L425.53,134.44 L427.58,133.35 L429.63,132.25 L431.67,131.15 L433.72,130.05 L435.76,128.95 L437.81,127.85 L439.86,126.75 L441.92,125.65 L443.98,124.55 L446.05,123.45 L448.12,122.36 L450.21,121.27 L452.30,120.18 L454.40,119.11 L456.51,118.03 L458.63,116.97 L460.77,115.91 L462.92,114.87 L465.08,113.83 L467.26,112.81 L469.45,111.79 L471.66,110.79 L473.89,109.81 L476.13,108.83 L478.39,107.86 L480.66,106.90 L482.94,105.95 L485.24,105.01 L487.54,104.07 L489.86,103.14 L492.18,102.22 L494.51,101.30 L496.85,100.38 L499.19,99.47 L501.55,98.56 L503.90,97.65 L506.26,96.74 L508.62,95.83 L510.98,94.92 L513.35,94.01 L515.73,93.11 L518.10,92.20 L520.49,91.30 L522.87,90.40 L525.26,89.50 L527.66,88.60 L530.07,87.71 L532.48,86.82 L534.89,85.93 L537.32,85.04 L539.75,84.16 L542.19,83.29 L544.63,82.42 L547.09,81.55 L549.55,80.69 L552.02,79.83 L554.50,78.98 L556.99,78.14 L559.49,77.30 L561.99,76.46 L564.51,75.63 L567.02,74.80 L569.55,73.97 L572.08,73.15 L574.62,72.33 L577.16,71.51 L579.71,70.69 L582.26,69.88 L584.81,69.06 L587.37,68.25 L589.93,67.44 L592.50,66.63 L595.06,65.81 L597.63,65.00 L600.20,64.18 L602.77,63.37 L605.35,62.55 L607.92,61.73 L610.49,60.91 L613.07,60.09 L615.66,59.27 L618.27,58.48 L620.93,57.73 L623.64,57.02 L626.42,56.36 L629.28,55.78 L632.23,55.28 L635.28,54.87 L638.46,54.56" fill="none" stroke="#000" stroke-width="2.2" stroke-linejoin="round" stroke-linecap="butt" stroke-dasharray="4.212 4.212 12.637 4.212" stroke-dashoffset="20.336"/>
<line x1="354.9" y1="436.00" x2="417.8" y2="436.00" stroke="#e00000" stroke-width="3.0" stroke-linecap="butt"/>
<text x="432.4" y="442.20" class="l">TRP+BNP+dFL (AUC = 0.67)</text>
<line x1="355.7" y1="456.25" x2="416.6" y2="456.25" stroke="#000" stroke-width="2.3" stroke-linecap="butt" stroke-dasharray="8.480 8.480"/>
<text x="432.4" y="462.40" class="l">Adding +NYHA (AUC = 0.71)</text>
<line x1="355.7" y1="476.50" x2="416.6" y2="476.50" stroke="#000" stroke-width="2.3" stroke-linecap="butt" stroke-dasharray="2.120 6.360"/>
<text x="432.4" y="482.60" class="l">Adding +CRP (AUC = 0.68)</text>
<line x1="355.7" y1="496.75" x2="416.6" y2="496.75" stroke="#000" stroke-width="2.3" stroke-linecap="butt" stroke-dasharray="2.120 6.360 8.480 6.360"/>
<text x="432.4" y="502.80" class="l">Adding +RWT (AUC = 0.68)</text>
<line x1="355.7" y1="517.00" x2="416.6" y2="517.00" stroke="#000" stroke-width="2.3" stroke-linecap="butt" stroke-dasharray="14.840 6.360"/>
<text x="432.4" y="523.00" class="l">Adding +Age (AUC = 0.67)</text>
<line x1="355.7" y1="537.25" x2="416.6" y2="537.25" stroke="#000" stroke-width="2.3" stroke-linecap="butt" stroke-dasharray="4.240 4.240 12.720 4.240"/>
<text x="432.4" y="543.20" class="l">All Included (AUC = 0.73)</text>
<text x="368.8" y="14.5" text-anchor="middle" class="b">ROC Curve at 12 Months</text>
<text x="367.5" y="634.6" text-anchor="middle" class="t">False Positive</text>
<text transform="translate(11.8 298.4) rotate(-90)" x="0" y="0" text-anchor="middle" class="t">True Positive</text>
</svg>
</body></html>
